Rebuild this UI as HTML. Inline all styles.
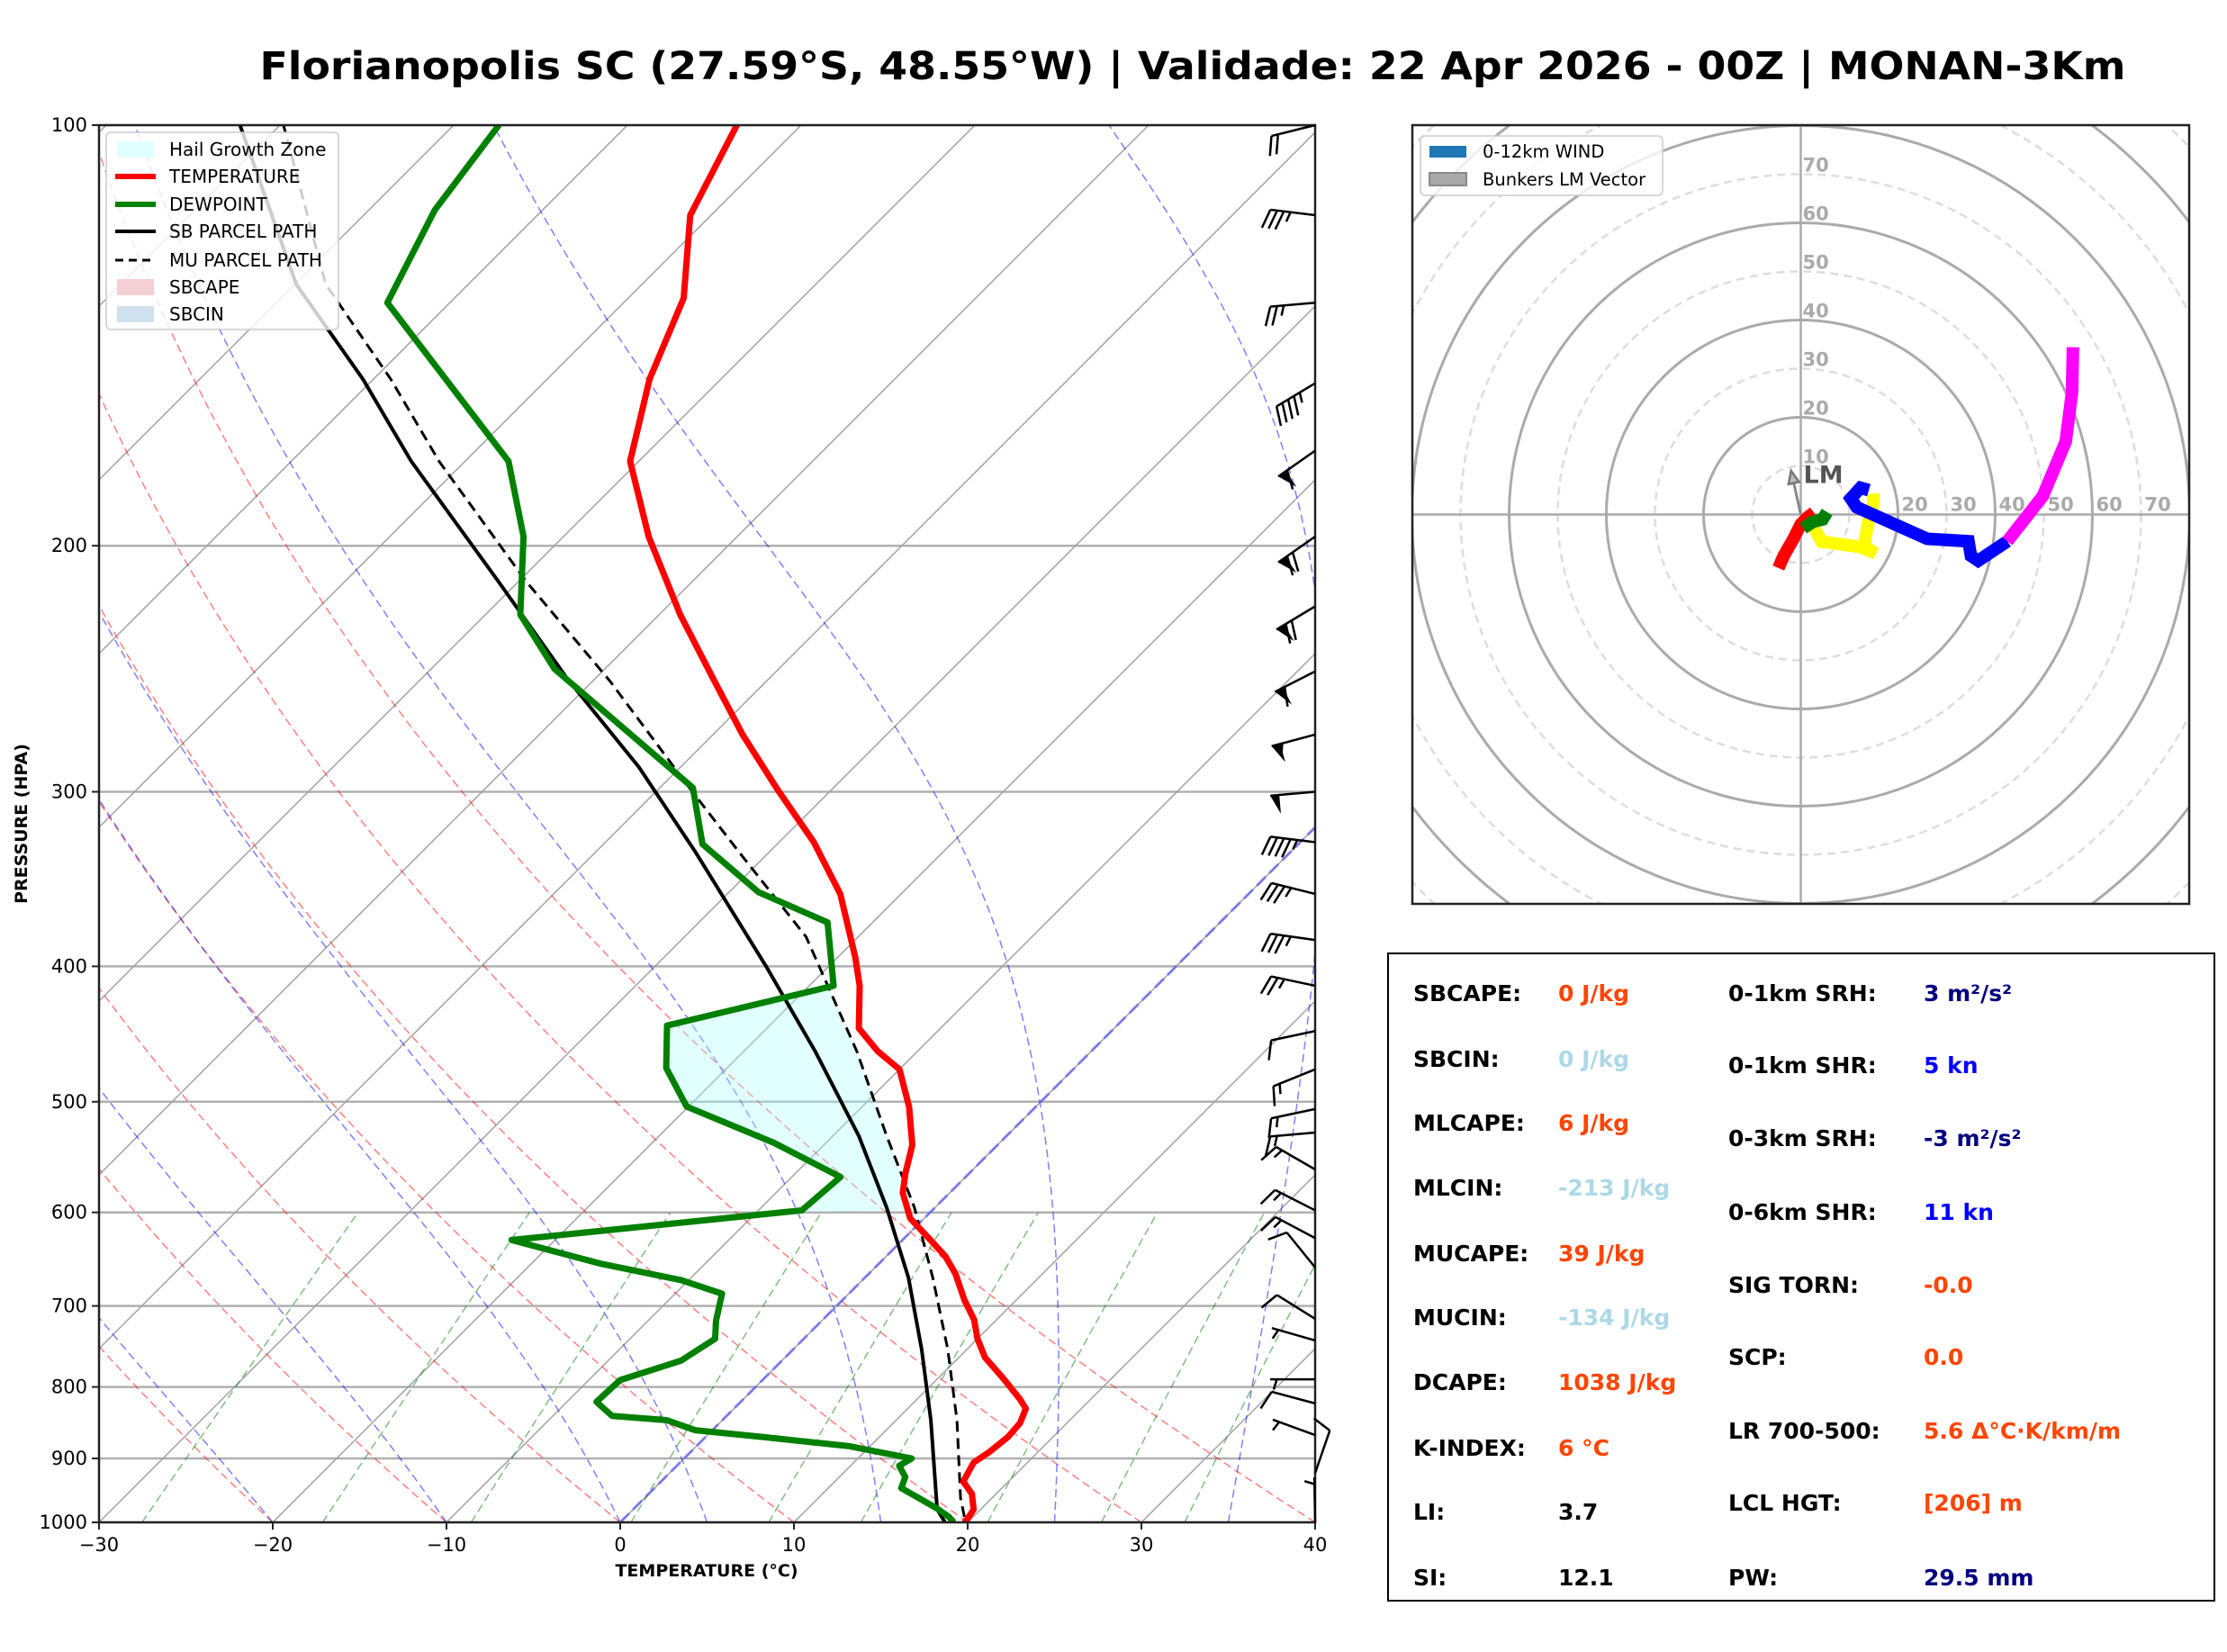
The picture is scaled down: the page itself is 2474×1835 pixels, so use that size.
<!DOCTYPE html>
<html><head><meta charset="utf-8"><style>
html,body{margin:0;padding:0;background:#fff;}
svg text{font-family:"DejaVu Sans","Liberation Sans",sans-serif;}
</style></head><body>
<svg id="root" xmlns="http://www.w3.org/2000/svg" width="2474" height="1830" viewBox="0 0 2474 1830">
<rect x="0" y="0" width="2474" height="1830" fill="#fff"/>
<text x="1325" y="88" text-anchor="middle" font-size="43" font-weight="bold" textLength="2073" lengthAdjust="spacingAndGlyphs">Florianopolis SC (27.59°S, 48.55°W) | Validade: 22 Apr 2026 - 00Z | MONAN-3Km</text>
<defs>
<clipPath id="skewClip"><rect x="110" y="139" width="1351" height="1552"/></clipPath>
<clipPath id="hodoClip"><rect x="1569" y="139" width="863" height="865"/></clipPath>
</defs>
<g id="skew"></g>
<g id="hodo"></g>
<g id="table">
<rect x="1542" y="1059" width="918" height="719" fill="#fff" stroke="#000" stroke-width="2"/>
</g>
</svg>
<script>
// ---- Skew-T data ----
const tempP=[1000,995,979,954,935,906,890,869,849,829,816,788,762,739,716,693,664,645,626,606,581,562,537,504,474,460,443,413,394,377,355,326,299,273,249,224,197,174,152,133,116,100];
const tempT=[19.8,19.8,19.6,18.6,17.4,16.9,17.2,17.4,17.3,16.8,15.9,13.7,11.5,10.0,8.7,7.0,5.0,3.4,1.4,-0.8,-2.7,-3.7,-4.9,-7.3,-10.0,-12.3,-14.7,-17.1,-19.0,-20.9,-23.5,-28.0,-33.1,-38.3,-43.2,-48.8,-55.1,-60.5,-64.1,-66.8,-71.2,-73.7];
const dewP=[1000,991,977,945,928,911,900,882,869,859,845,839,820,791,766,739,717,686,671,653,628,598,566,535,504,473,441,413,372,354,327,298,245,224,197,174,134,115,100];
const dewT=[19.2,18.6,17.4,14.2,13.8,12.8,13.1,8.8,3.4,-1.0,-3.2,-6.6,-8.3,-8.2,-5.8,-5.1,-6.1,-7.3,-10.4,-16.0,-22.5,-7.5,-7.2,-13.0,-20.1,-23.5,-25.9,-18.6,-22.6,-28.3,-34.3,-38.1,-52.9,-58.0,-62.3,-67.5,-83.6,-86.2,-87.4];
const sbP=[1000,979,845,752,668,595,529,460,400,331,288,249,212,174,152,130,100];
const sbT=[18.7,17.5,12.0,7.4,2.5,-2.8,-8.5,-15.9,-23.6,-34.3,-42.4,-51.6,-61.2,-73.1,-80.6,-89.9,-102.3];
const muP=[991,961,845,752,668,595,529,460,381,331,298,250,212,174,152,130,100];
const muT=[19.5,18.2,13.5,8.9,3.9,-1.2,-6.9,-13.5,-23.0,-31.8,-38.3,-49.0,-59.6,-71.5,-79.0,-88.2,-99.8];
const hailTop=413, hailBottom=600;
const barbP=[100,116,134,153,171,197,221,246,273,300,326,355,383,413,445,474,506,526,559,598,626,657,715,741,790,822,866,922,1000];
const barbDir=[256,277,265,239,235,235,239,243,255,265,277,284,278,282,258,248,258,265,300,297,298,321,302,286,270,285,290,19,359];
const barbSpd=[20,35,25,45,60,70,70,60,55,50,45,35,35,25,10,15,15,15,15,15,15,10,10,5,5,10,5,10,5];
const pTicks=[100,200,300,400,500,600,700,800,900,1000];
const tTicks=[-30,-20,-10,0,10,20,30,40];
const dryTheta=[-30,-20,-10,0,10,20,30,40];
const moistT0=[-20,-10,0,5,15,25,35];
const mixW=[0.4,1,2,4,7,10,16,24,32];
// ---- Hodograph data ----
const hodoRedU=[-4.6,-3.5,-1.5,0,1.5,2.7];
const hodoRedV=[-11,-8.5,-5,-2,-0.5,0.4];
const hodoGreenU=[0.5,2.5,4.5,5.4];
const hodoGreenV=[-2.8,-1.5,-1,0.5];
const hodoYellowU=[2.3,4.3,12.3,15.4,13.0,13.8,15.0,14.8];
const hodoYellowV=[-1.9,-5.6,-6.7,-8.0,-6.5,-2,2.5,4.3];
const hodoBlueU=[14,12.3,10.3,11.5,26,34.5,35,36.5,42.5];
const hodoBlueV=[5,5.5,3.3,1.5,-5,-5.5,-8.5,-9.5,-5.5];
const hodoMagU=[42.5,49.8,54.5,55.8,56];
const hodoMagV=[-5.5,3.8,15,25,34.4];
const lmU=-2.0, lmV=9.0;
const ringKn=[10,20,30,40,50,60,70,80,90,100,110,120];
// ---- Table data ----
const tabLeftLabels=["SBCAPE:","SBCIN:","MLCAPE:","MLCIN:","MUCAPE:","MUCIN:","DCAPE:","K-INDEX:","LI:","SI:"];
const tabLeftValues=["0 J/kg","0 J/kg","6 J/kg","-213 J/kg","39 J/kg","-134 J/kg","1038 J/kg","6 °C","3.7","12.1"];
const tabLeftColors=["#ff4500","#add8e6","#ff4500","#add8e6","#ff4500","#add8e6","#ff4500","#ff4500","#000","#000"];
const tabRightLabels=["0-1km SRH:","0-1km SHR:","0-3km SRH:","0-6km SHR:","SIG TORN:","SCP:","LR 700-500:","LCL HGT:","PW:"];
const tabRightValues=["3 m²/s²","5 kn","-3 m²/s²","11 kn","-0.0","0.0","5.6 Δ°C·K/km/m","[206] m","29.5 mm"];
const tabRightColors=["#000080","#0000ff","#000080","#0000ff","#ff4500","#ff4500","#ff4500","#ff4500","#000080"];

const NS="http://www.w3.org/2000/svg";
function mk(tag,attrs,parent){const e=document.createElementNS(NS,tag);for(const k in attrs)e.setAttribute(k,attrs[k]);parent.appendChild(e);return e;}
const L=110,R=1461,T=139,B=1691,H=B-T,K=(R-L)/70;
function yP(p){return B-(3-Math.log10(p))*H;}
function xT(t,p){return L+(t+30)*K+(B-yP(p));}
function pathOf(pts){return 'M'+pts.map(q=>q[0].toFixed(1)+','+q[1].toFixed(1)).join('L');}
function interp(P,Tv,p){for(let i=0;i<P.length-1;i++){if(p<=P[i]&&p>=P[i+1]){const a=(Math.log(P[i])-Math.log(p))/(Math.log(P[i])-Math.log(P[i+1]));return Tv[i]+a*(Tv[i+1]-Tv[i]);}}return p>P[0]?Tv[0]:Tv[Tv.length-1];}

const skew=document.getElementById('skew');
const clipG=mk('g',{'clip-path':'url(#skewClip)'},skew);
pTicks.forEach(p=>{const l=mk('line',{x1:L,x2:R,y1:yP(p),y2:yP(p),stroke:'#b0b0b0','stroke-width':2.5},clipG);

});
for(let t=-140;t<=40;t+=10){const l=mk('line',{x1:xT(t,1000),y1:yP(1000),x2:xT(t,100),y2:yP(100),stroke:'#a0a0a0','stroke-width':1.5},clipG);

}
dryTheta.forEach(th=>{const pts=[];for(let p=1000;p>=100;p-=10){const t=(th+273.15)*Math.pow(p/1000,0.2857)-273.15;pts.push([xT(t,p),yP(p)]);}
const e=mk('path',{d:pathOf(pts),fill:'none',stroke:'rgba(255,0,0,0.5)','stroke-width':1.5,'stroke-dasharray':'9,5'},clipG);

});
function dTdp(t,p){const Tk=t+273.15;const es=6.112*Math.exp(17.67*t/(t+243.5));const rs=0.622*es/(p-es);return (287*Tk+2.501e6*rs)/(p*(1005+2.501e6*2.501e6*rs*0.622/(287*Tk*Tk)));}
moistT0.forEach(t0=>{let t=t0;const pts=[[xT(t,1000),yP(1000)]];for(let p=1000;p>100;p-=5){const h=-5;const k1=dTdp(t,p),k2=dTdp(t+h/2*k1,p+h/2),k3=dTdp(t+h/2*k2,p+h/2),k4=dTdp(t+h*k3,p+h);t+=h/6*(k1+2*k2+2*k3+k4);pts.push([xT(t,p+h),yP(p+h)]);}
const e=mk('path',{d:pathOf(pts),fill:'none',stroke:'rgba(0,0,255,0.5)','stroke-width':1.5,'stroke-dasharray':'9,5'},clipG);

});
mixW.forEach(w=>{const pts=[];for(let p=1000;p>=600;p-=20){const e=w*p/(622+w);const ln=Math.log(e/6.112);const td=243.5*ln/(17.67-ln);pts.push([xT(td,p),yP(p)]);}
const e=mk('path',{d:pathOf(pts),fill:'none',stroke:'rgba(0,128,0,0.5)','stroke-width':1.5,'stroke-dasharray':'9,5'},clipG);

});
{const e=mk('line',{x1:xT(0,1000),y1:yP(1000),x2:xT(0,100),y2:yP(100),stroke:'rgba(80,80,255,0.6)','stroke-width':3,'stroke-dasharray':'14,6'},clipG);

}
{const pts=[];const pp=[hailBottom];dewP.forEach(p=>{if(p<hailBottom&&p>hailTop)pp.push(p);});pp.push(hailTop);
pp.forEach(p=>pts.push([xT(interp(dewP,dewT,p),p),yP(p)]));
for(let p=hailTop;p<=hailBottom;p+=5)pts.push([xT(interp(muP,muT,p),p),yP(p)]);
const e=mk('path',{d:pathOf(pts)+'Z',fill:'rgba(170,255,255,0.35)',stroke:'none'},clipG);

}
function profile(P,Tv,attrs,name){const pts=P.map((p,i)=>[xT(Tv[i],p),yP(p)]);const e=mk('path',Object.assign({d:pathOf(pts),fill:'none','stroke-linejoin':'round'},attrs),clipG);

}
profile(sbP,sbT,{stroke:'#000','stroke-width':4},'sb-parcel-path');
profile(muP,muT,{stroke:'#000','stroke-width':3,'stroke-dasharray':'12,7'},'mu-parcel-path');
profile(tempP,tempT,{stroke:'#ff0000','stroke-width':7},'temperature-line');
profile(dewP,dewT,{stroke:'#008000','stroke-width':7},'dewpoint-line');
{const e=mk('rect',{x:L,y:T,width:R-L,height:H,fill:'none',stroke:'#222','stroke-width':2.5},skew);

}
pTicks.forEach(p=>{mk('line',{x1:L-8,x2:L,y1:yP(p),y2:yP(p),stroke:'#222','stroke-width':2},skew);
const t=mk('text',{x:L-13,y:yP(p)+7,'text-anchor':'end','font-size':21},skew);t.textContent=p;

});
tTicks.forEach(v=>{const x=L+(v+30)*K;mk('line',{x1:x,x2:x,y1:B,y2:B+8,stroke:'#222','stroke-width':2},skew);
const t=mk('text',{x:x,y:B+32,'text-anchor':'middle','font-size':21},skew);t.textContent=(v<0?'\u2212':'')+Math.abs(v);

});
{const t=mk('text',{x:785,y:1751,'text-anchor':'middle','font-size':19,'font-weight':'bold'},skew);t.textContent='TEMPERATURE (°C)';


const t2=mk('text',{x:0,y:0,'text-anchor':'middle','font-size':19,'font-weight':'bold',transform:'translate(30,915) rotate(-90)'},skew);t2.textContent='PRESSURE (HPA)';

}
barbP.forEach((p,i)=>{const d=barbDir[i]*Math.PI/180;const sx=Math.sin(d),sy=-Math.cos(d);const ax=R,ay=yP(p);const len=50;const tx=ax+sx*len,ty=ay+sy*len;
const g=mk('g',{},skew);


mk('line',{x1:ax,y1:ay,x2:tx,y2:ty,stroke:'#000','stroke-width':2.5},g);
const px=sy,py=-sx;let spd=Math.round(barbSpd[i]/5)*5;const pen=Math.floor(spd/50);spd-=pen*50;const full=Math.floor(spd/10);spd-=full*10;const half=spd>=5;
let pos=0;const st=q=>[tx-sx*q,ty-sy*q];
for(let j=0;j<pen;j++){const a=st(pos),b=st(pos+10);mk('polygon',{points:[a,b,[b[0]+px*21,b[1]+py*21]].map(q=>q.join(',')).join(' '),fill:'#000'},g);pos+=12;}
if(pen===0&&full===0&&half)pos=7.5;
for(let j=0;j<full;j++){const a=st(pos);mk('line',{x1:a[0],y1:a[1],x2:a[0]+px*21+sx*7,y2:a[1]+py*21+sy*7,stroke:'#000','stroke-width':2.5},g);pos+=7.5;}
if(half){const a=st(pos);mk('line',{x1:a[0],y1:a[1],x2:a[0]+px*11+sx*3.5,y2:a[1]+py*11+sy*3.5,stroke:'#000','stroke-width':2.5},g);}
});
{const g=mk('g',{},skew);


mk('rect',{x:118,y:147,width:258,height:219,rx:5,fill:'rgba(255,255,255,0.8)',stroke:'#ccc','stroke-width':1.5},g);
const items=[['Hail Growth Zone','rect','#e0ffff'],['TEMPERATURE','line','#ff0000'],['DEWPOINT','line','#008000'],['SB PARCEL PATH','line','#000'],['MU PARCEL PATH','dash','#000'],['SBCAPE','rect','#f4cfd3'],['SBCIN','rect','#cfe1ee']];
const ys=[166,196,227,257,289,319,349];
items.forEach((it,i)=>{const y=ys[i];if(it[1]==='rect')mk('rect',{x:130,y:y-9,width:41,height:18,fill:it[2]},g);else mk('line',{x1:128,x2:173,y1:y,y2:y,stroke:it[2],'stroke-width':it[1]==='dash'?3:(i<3?6:4),'stroke-dasharray':it[1]==='dash'?'9,6':'none'},g);
const t=mk('text',{x:188,y:y+7,'font-size':20},g);t.textContent=it[0];

});}

// ---- Hodograph ----
const hodo=document.getElementById('hodo');
const HX=2000.5,HY=571.5,HS=5.4;
const hc=mk('g',{'clip-path':'url(#hodoClip)'},hodo);
ringKn.forEach(r=>{const solid=r%20===0;const c=mk('circle',{cx:HX,cy:HY,r:r*HS,fill:'none',stroke:solid?'#aaa':'#ddd','stroke-width':solid?3:2.5,'stroke-dasharray':solid?'none':'9,6'},hc);

});
mk('line',{x1:1569,x2:2432,y1:HY,y2:HY,stroke:'#aaa','stroke-width':2.5},hc);
mk('line',{x1:HX,x2:HX,y1:139,y2:1004,stroke:'#aaa','stroke-width':2.5},hc);
ringKn.filter(r=>r<=70).forEach(r=>{const t=mk('text',{x:HX+2,y:HY-r*HS-3,'font-size':21,'font-weight':'bold',fill:'#aaa'},hc);t.textContent=r;


if(r>=20){const t2=mk('text',{x:HX+r*HS+4,y:HY-4,'font-size':21,'font-weight':'bold',fill:'#aaa'},hc);t2.textContent=r;

}});
function trace(U,V,color,name){const pts=U.map((u,i)=>[HX+u*HS,HY-V[i]*HS]);const e=mk('path',{d:pathOf(pts),fill:'none',stroke:color,'stroke-width':14,'stroke-linejoin':'miter'},hc);

}
trace(hodoYellowU,hodoYellowV,'#ffff00','hodo-trace-3-6km');
trace(hodoRedU,hodoRedV,'#ff0000','hodo-trace-0-1km');
trace(hodoGreenU,hodoGreenV,'#008000','hodo-trace-1-3km');
trace(hodoBlueU,hodoBlueV,'#0000ff','hodo-trace-6-9km');
trace(hodoMagU,hodoMagV,'#ff00ff','hodo-trace-9-12km');
{const x2=HX+lmU*HS,y2=HY-lmV*HS;const ang=Math.atan2(y2-HY,x2-HX);const ux=Math.cos(ang),uy=Math.sin(ang);
const g=mk('g',{},hc);


const bx=x2-ux*14,by=y2-uy*14;
mk('line',{x1:HX,y1:HY,x2:bx,y2:by,stroke:'#888','stroke-width':3},g);
mk('polygon',{points:`${x2},${y2} ${bx-uy*6},${by+ux*6} ${bx+uy*6},${by-ux*6}`,fill:'#bbb',stroke:'#777','stroke-width':2.5},g);
const t=mk('text',{x:HX+3,y:HY-35,'font-size':27,'font-weight':'bold',fill:'#555'},g);t.textContent='LM';

}
mk('rect',{x:1569,y:139,width:863,height:865,fill:'none',stroke:'#222','stroke-width':2.5},hodo);
{const g=mk('g',{},hodo);


mk('rect',{x:1578,y:151,width:269,height:66,rx:5,fill:'rgba(255,255,255,0.8)',stroke:'#ccc','stroke-width':1.5},g);
mk('rect',{x:1588,y:162,width:41,height:13,fill:'#1f77b4'},g);
mk('rect',{x:1588,y:192,width:41,height:14,fill:'#aaa',stroke:'#888','stroke-width':2},g);
const t1=mk('text',{x:1647,y:175,'font-size':19.5},g);t1.textContent='0-12km WIND';


const t2=mk('text',{x:1647,y:206,'font-size':19.5},g);t2.textContent='Bunkers LM Vector';

}

// ---- Table ----
const tab=document.getElementById('table');
const rowY=[1103,1176,1247,1319,1392,1463,1535,1608,1679,1752];
const rowYR=[1103,1183,1264,1346,1427,1507,1589,1669,1752];
rowY.forEach((y,i)=>{[[1570,tabLeftLabels[i],'#000',0],[1731,tabLeftValues[i],tabLeftColors[i],1]].forEach(c=>{const t=mk('text',{x:c[0],y:y+9,'font-size':25,'font-weight':'bold',fill:c[2]},tab);t.textContent=c[1];

});});
rowYR.forEach((y,i)=>{[[1920,tabRightLabels[i],'#000',0],[2137,tabRightValues[i],tabRightColors[i],1]].forEach(c=>{const t=mk('text',{x:c[0],y:y+9,'font-size':25,'font-weight':'bold',fill:c[2]},tab);t.textContent=c[1];

});});
</script>
</body></html>
